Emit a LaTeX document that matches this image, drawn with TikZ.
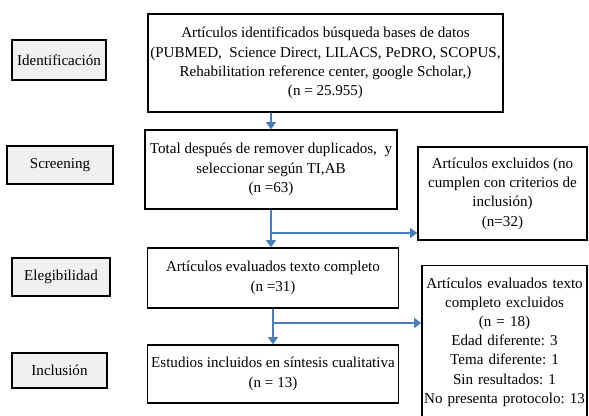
\documentclass[tikz,border=0pt]{standalone}
\usepackage{fontspec}
\setmainfont{Liberation Serif}
\usetikzlibrary{arrows.meta}
\definecolor{flowblue}{RGB}{74,126,187}
\frenchspacing

\begin{document}
\begin{tikzpicture}
  [x=0.75pt,y=-0.75pt,>={Triangle[width=7.5pt,length=5.5pt]},
  every node/.style={font=\fontsize{11.3}{14.5}\selectfont},
	stage node/.style={rectangle,draw,fill=black!6,line width=1pt,
  inner sep=0pt},
	main node/.style={rectangle,draw,fill=white,line width=1pt,
  align=center,inner sep=0pt},
	flow/.style={->,draw=flowblue,line width=1.8pt}]

  \useasboundingbox (0,0) rectangle (589,415);
  \clip (0,0) rectangle (589,415);

  % stages
  \node[stage node,minimum width=70.5pt,minimum height=30pt] (ident) at (59,60) {Identificación};
  \node[stage node,minimum width=79.5pt,minimum height=28.5pt] (screen) at (60,165) {Screening};
  \node[stage node,minimum width=73.5pt,minimum height=28.5pt] (elig) at (61,277) {Elegibilidad};
  \node[stage node,minimum width=71.25pt,minimum height=26.25pt] (incl) at (59.5,370.5) {Inclusión};

  % main flow
  \node[main node,minimum width=266.25pt,minimum height=73.5pt] (found) at (325.5,63)
    {Artículos identificados búsqueda bases de datos\\
     (PUBMED,\ \ Science Direct, LILACS, PeDRO, SCOPUS,\\
     Rehabilitation reference center, google Scholar,)\\
     (n = 25.955)};
  \node[main node,minimum width=189pt,minimum height=59.25pt] (screened) at (271,169.5)
    {Total después de remover duplicados,\ \ y\\
     seleccionar según TI,AB\\
     (n =63)};
  \node[main node,minimum width=188.25pt,minimum height=45pt] (fulltext) at (273,278)
    {Artículos evaluados texto completo\\ (n =31)};
  \node[main node,minimum width=188.25pt,minimum height=43.5pt] (included) at (273,374)
    {Estudios incluidos en síntesis cualitativa\\ (n = 13)};

  % exclusions
  \node[main node,minimum width=126.75pt,minimum height=69.75pt] (excl1) at (502.5,193.5)
    {Artículos excluidos (no\\ cumplen con criterios de\\ inclusión)\\ (n=32)};
  \node[main node,anchor=north,text width=123.75pt,inner ysep=9pt,text depth=110pt,
    font=\fontsize{11.3}{14.4}\selectfont] (excl2) at (504.5,265)
    {Artículos evaluados texto\\ completo excluidos\\ (n = 18)\\ Edad diferente: 3\\
     Tema diferente: 1\\ Sin resultados: 1\\ No presenta protocolo: 13};

  \coordinate (split1) at (271,233);
  \coordinate (split2) at (273,323);

  \draw[flow] (screened.north |- found.south) -- (screened.north);
  \draw[flow] (screened.south) -- (screened.south |- fulltext.north);
  \draw[flow] (split1) -- (split1 -| excl1.west);
  \draw[flow] (fulltext.south) -- (fulltext.south |- included.north);
  \draw[flow] (split2) -- (split2 -| excl2.west);
\end{tikzpicture}
\end{document}
